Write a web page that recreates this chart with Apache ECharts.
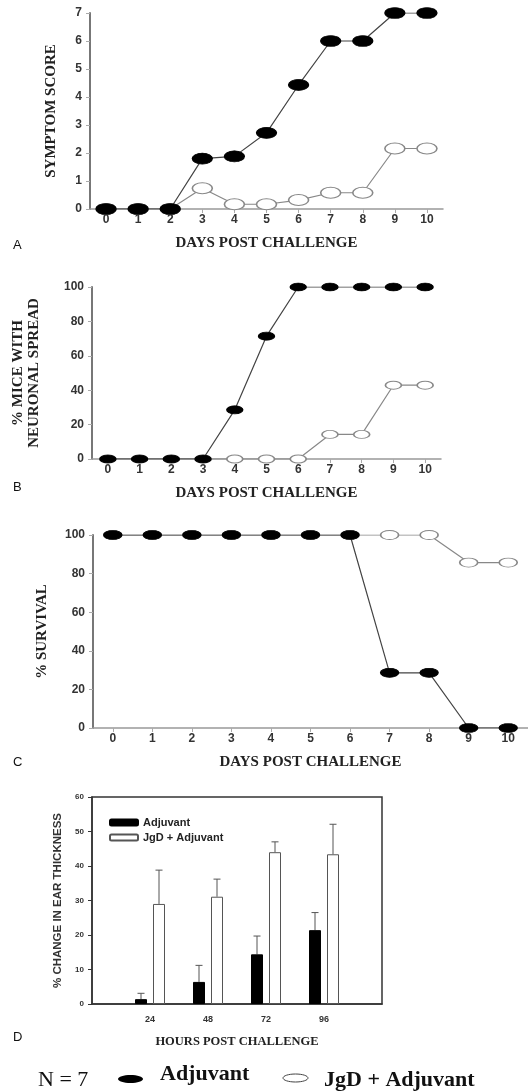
<!DOCTYPE html>
<html>
<head>
<meta charset="utf-8">
<script src="https://cdn.jsdelivr.net/npm/echarts@6/dist/echarts.min.js"></script>
<style>
html,body{margin:0;padding:0;background:#fff;}
#chart{width:528px;height:1091px;}
</style>
</head>
<body>
<div id="chart"></div>
<script>
// ---- data ----
const days = ['0','1','2','3','4','5','6','7','8','9','10'];
const scoreAdj = [0, 0, 0, 1.8, 1.88, 2.72, 4.43, 6, 6, 7, 7];
const scoreJgd = [0, 0, 0, 0.74, 0.17, 0.17, 0.32, 0.58, 0.58, 2.16, 2.16];
const spreadAdj = [0, 0, 0, 0, 28.6, 71.4, 100, 100, 100, 100, 100];
const spreadJgd = [0, 0, 0, 0, 0, 0, 0, 14.3, 14.3, 42.9, 42.9];
const survAdj = [100, 100, 100, 100, 100, 100, 100, 28.6, 28.6, 0, 0];
const survJgd = [100, 100, 100, 100, 100, 100, 100, 100, 100, 85.7, 85.7];
const hours = ['24', '48', '72', '96'];
const earAdj = [1.4, 6.4, 14.4, 21.4];
const earAdjErr = [1.7, 4.8, 5.3, 5.1];
const earJgd = [29.0, 31.1, 44.0, 43.4];
const earJgdErr = [9.8, 5.1, 3.0, 8.7];

const SERIF = 'Liberation Serif';
const SANS = 'Liberation Sans';

const chart = echarts.init(document.getElementById('chart'), null, {renderer: 'canvas'});

const grids = [
  {left: 90, top: 13, width: 353, height: 196},
  {left: 92, top: 287, width: 349, height: 172},
  {left: 93, top: 535, width: 435, height: 193},
  {left: 92, top: 797, width: 290, height: 207, show: true, borderColor: '#333', borderWidth: 1.5}
];

function lineXAxis(gi) {
  return {
    gridIndex: gi, type: 'category', data: days, boundaryGap: true,
    axisLine: {lineStyle: {color: '#999', width: 1.5}},
    axisTick: {show: true, alignWithLabel: true, length: 4, lineStyle: {color: '#aaa'}},
    axisLabel: {color: '#333', fontFamily: SANS, fontWeight: 'bold', fontSize: 12, margin: 5},
    name: 'DAYS POST CHALLENGE', nameLocation: 'middle', nameGap: 27,
    nameTextStyle: {fontFamily: SERIF, fontWeight: 'bold', fontSize: 15, color: '#222'}
  };
}
function lineYAxis(gi, max, interval, name, gap, lh) {
  return {
    gridIndex: gi, type: 'value', min: 0, max: max, interval: interval,
    axisLine: {show: true, lineStyle: {color: '#777', width: 2}},
    axisTick: {show: true, length: 4, lineStyle: {color: '#aaa'}},
    splitLine: {show: false},
    axisLabel: {color: '#333', fontFamily: SANS, fontWeight: 'bold', fontSize: 12, margin: 8},
    name: name, nameLocation: 'middle', nameGap: gap,
    nameTextStyle: {fontFamily: SERIF, fontWeight: 'bold', fontSize: 15, color: '#222', lineHeight: lh || 16}
  };
}
function jgdLine(gi, data, size) {
  return {
    name: 'JgD line ' + gi, type: 'line', xAxisIndex: gi, yAxisIndex: gi, data: data,
    symbol: 'circle', symbolSize: size,
    lineStyle: {color: '#888', width: 1.2},
    itemStyle: {color: '#fff', borderColor: '#888', borderWidth: 1.2},
    animation: false, z: 2
  };
}
function adjLine(gi, data, size) {
  return {
    name: 'Adj line ' + gi, type: 'line', xAxisIndex: gi, yAxisIndex: gi, data: data,
    symbol: 'circle', symbolSize: size,
    lineStyle: {color: '#444', width: 1.2},
    itemStyle: {color: '#000', borderColor: '#000', borderWidth: 1},
    animation: false, z: 3
  };
}

const dCats = [''].concat(hours, ['']);
const pad = arr => [null].concat(arr, [null]);

function errSeries(name, vals, errs, offset) {
  return {
    name: name, type: 'custom', xAxisIndex: 3, yAxisIndex: 3,
    data: vals.map((v, i) => [i + 1, v, errs[i]]),
    encode: {x: 0, y: 1},
    renderItem: function (params, api) {
      const base = api.coord([api.value(0), api.value(1)]);
      const top = api.coord([api.value(0), api.value(1) + api.value(2)]);
      const x = base[0] + offset;
      const st = {stroke: '#555', lineWidth: 1};
      return {type: 'group', children: [
        {type: 'line', shape: {x1: x, y1: base[1], x2: x, y2: top[1]}, style: st},
        {type: 'line', shape: {x1: x - 3.5, y1: top[1], x2: x + 3.5, y2: top[1]}, style: st}
      ]};
    },
    animation: false, z: 1
  };
}

const option = {
  backgroundColor: '#fff',
  animation: false,
  grid: grids,
  xAxis: [
    lineXAxis(0), lineXAxis(1), lineXAxis(2),
    {
      gridIndex: 3, type: 'category', data: dCats, boundaryGap: false,
      axisLine: {show: true, lineStyle: {color: '#333', width: 1.5}},
      axisTick: {show: false},
      axisLabel: {color: '#333', fontFamily: SANS, fontWeight: 'bold', fontSize: 9, margin: 11, interval: 0},
      name: 'HOURS POST CHALLENGE', nameLocation: 'middle', nameGap: 31,
      nameTextStyle: {fontFamily: SERIF, fontWeight: 'bold', fontSize: 12.5, color: '#222'}
    }
  ],
  yAxis: [
    lineYAxis(0, 7, 1, 'SYMPTOM SCORE', 31),
    lineYAxis(1, 100, 20, '% MICE WITH\nNEURONAL SPREAD', 50, 16),
    lineYAxis(2, 100, 20, '% SURVIVAL', 43),
    {
      gridIndex: 3, type: 'value', min: 0, max: 60, interval: 10,
      axisLine: {show: true, lineStyle: {color: '#333', width: 1.5}},
      axisTick: {show: true, length: 4, lineStyle: {color: '#333'}},
      splitLine: {show: false},
      axisLabel: {color: '#333', fontFamily: SANS, fontWeight: 'bold', fontSize: 8, margin: 8},
      name: '% CHANGE IN EAR THICKNESS', nameLocation: 'middle', nameGap: 26,
      nameTextStyle: {fontFamily: SANS, fontWeight: 'bold', fontSize: 11.5, color: '#333'}
    }
  ],
  legend: {
    data: ['Adjuvant', 'JgD + Adjuvant'],
    orient: 'vertical', left: 104, top: 812,
    itemWidth: 28, itemHeight: 6, itemGap: 4,
    selectedMode: false,
    textStyle: {fontFamily: SANS, fontWeight: 'bold', fontSize: 11, color: '#222'}
  },
  series: [
    jgdLine(0, scoreJgd, [20, 11]), adjLine(0, scoreAdj, [20, 11]),
    jgdLine(1, spreadJgd, [16, 8]), adjLine(1, spreadAdj, [16, 8]),
    jgdLine(2, survJgd, [18, 9]), adjLine(2, survAdj, [18, 9]),
    {
      name: 'Adjuvant', type: 'bar', xAxisIndex: 3, yAxisIndex: 3, data: pad(earAdj),
      barWidth: 12, barGap: '50%',
      itemStyle: {color: '#000', borderColor: '#000', borderWidth: 1}, z: 2
    },
    {
      name: 'JgD + Adjuvant', type: 'bar', xAxisIndex: 3, yAxisIndex: 3, data: pad(earJgd),
      barWidth: 12, barGap: '50%',
      itemStyle: {color: '#fff', borderColor: '#555', borderWidth: 1}, z: 2
    },
    errSeries('Adjuvant SD', earAdj, earAdjErr, -9),
    errSeries('JgD SD', earJgd, earJgdErr, 9)
  ],
  graphic: [
    {type: 'text', left: 13, top: 239, style: {text: 'A', font: '13px "Liberation Sans"', fill: '#111'}},
    {type: 'text', left: 13, top: 481, style: {text: 'B', font: '13px "Liberation Sans"', fill: '#111'}},
    {type: 'text', left: 13, top: 756, style: {text: 'C', font: '13px "Liberation Sans"', fill: '#111'}},
    {type: 'text', left: 13, top: 1031, style: {text: 'D', font: '13px "Liberation Sans"', fill: '#111'}},
    {type: 'text', x: 38, y: 1080, style: {text: 'N = 7', font: '22px "Liberation Serif"', fill: '#111', verticalAlign: 'middle'}},
    {type: 'ellipse', shape: {cx: 130.5, cy: 1079, rx: 12.5, ry: 4}, style: {fill: '#000'}},
    {type: 'text', x: 160, y: 1074, style: {text: 'Adjuvant', font: 'bold 22px "Liberation Serif"', fill: '#111', verticalAlign: 'middle'}},
    {type: 'ellipse', shape: {cx: 295.5, cy: 1078, rx: 12.5, ry: 4}, style: {fill: '#fff', stroke: '#444', lineWidth: 1}},
    {type: 'text', x: 324, y: 1080, style: {text: 'JgD + Adjuvant', font: 'bold 22px "Liberation Serif"', fill: '#111', verticalAlign: 'middle'}}
  ]
};
chart.setOption(option);
</script>
</body>
</html>
